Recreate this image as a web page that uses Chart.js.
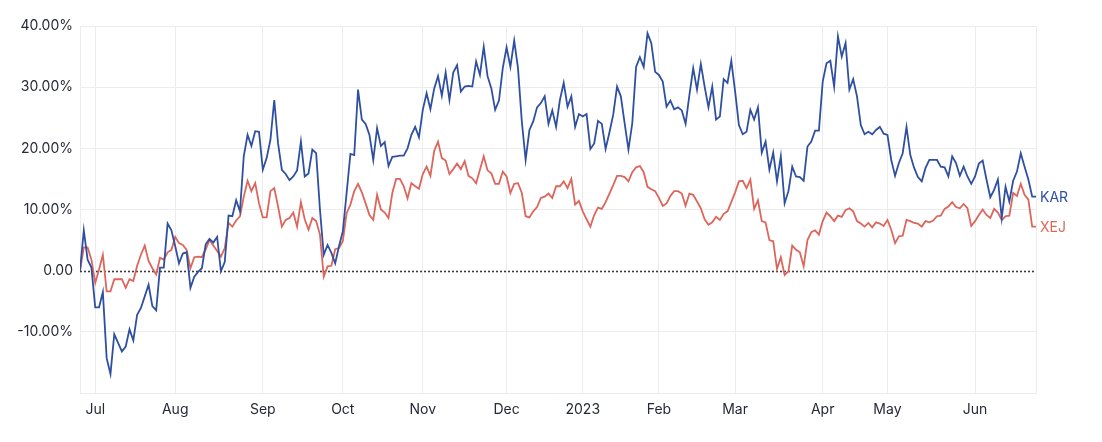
<!DOCTYPE html>
<html>
<head>
<meta charset="utf-8">
<script src="https://cdn.jsdelivr.net/npm/chart.js@4"></script>
<style>
  html, body { margin: 0; padding: 0; background: #fff; }
  #wrap { width: 1102px; height: 442px; position: relative; }
</style>
</head>
<body>
<div id="wrap"><canvas id="chart"></canvas></div>
<script>
// trading-day series, % change since 27 Jun 2022
const kar = [
  0, 6.6, 1.8, 0.5, -6.0, -6.0, -3.5, -14.3, -16.9, -10.4,
  -11.8, -13.2, -12.4, -9.6, -11.4, -7.2, -6.1, -4.2, -2.3, -5.8,
  -6.5, 0.5, 0.5, 7.7, 6.6, 4.0, 1.2, 2.8, 3.0, -2.8,
  -1.0, -0.2, 0.4, 4.3, 5.2, 4.6, 5.5, -0.1, 1.4, 9.0,
  8.9, 11.5, 9.7, 18.7, 22.2, 20.4, 22.8, 22.7, 16.5, 18.4,
  21.4, 27.9, 20.8, 16.5, 15.8, 14.8, 15.4, 16.4, 21.1, 15.4,
  15.9, 19.8, 19.2, 10.0, 2.6, 4.2, 2.9, 1.2, 4.0, 6.4,
  12.7, 19.1, 18.9, 29.6, 24.7, 24.0, 22.2, 18.1, 23.3, 20.4,
  21.0, 17.1, 18.6, 18.7, 18.8, 18.8, 20.0, 22.2, 23.5, 21.8,
  26.3, 29.0, 26.4, 29.8, 31.8, 28.6, 32.4, 27.9, 32.4, 33.6,
  29.3, 30.1, 30.2, 30.1, 34.2, 32.0, 36.6, 31.8, 29.8, 26.3,
  27.8, 33.1, 36.5, 33.3, 37.6, 33.1, 24.4, 18.1, 23.0, 24.4,
  26.7, 27.4, 28.5, 24.0, 26.2, 23.5, 27.9, 30.7, 26.8, 28.5,
  23.5, 25.6, 25.2, 25.6, 19.9, 20.8, 24.5, 24.0, 19.9, 22.6,
  25.5, 30.1, 28.5, 24.1, 19.8, 24.1, 33.3, 34.9, 33.3, 38.8,
  37.2, 32.5, 32.0, 30.9, 26.8, 27.8, 26.4, 26.7, 26.2, 24.0,
  28.7, 33.1, 29.6, 33.8, 30.1, 26.7, 30.1, 24.7, 25.2, 31.3,
  30.7, 34.3, 29.3, 23.8, 22.3, 22.7, 26.3, 24.7, 26.7, 19.3,
  21.1, 16.5, 19.3, 14.6, 18.7, 11.0, 13.0, 17.0, 15.4, 15.3,
  14.7, 20.3, 21.1, 22.9, 22.9, 30.9, 33.9, 34.3, 30.1, 38.3,
  35.0, 37.2, 29.6, 31.3, 28.5, 23.8, 22.3, 22.7, 22.3, 23.0,
  23.5, 22.4, 22.2, 18.1, 15.5, 17.6, 19.2, 23.5, 18.9, 16.8,
  15.3, 14.6, 16.8, 18.1, 18.1, 18.1, 17.0, 16.9, 15.4, 18.7,
  17.6, 15.5, 17.0, 15.4, 14.2, 15.4, 17.5, 18.0, 14.9, 12.0,
  13.2, 14.9, 8.6, 13.7, 11.3, 14.7, 16.2, 19.2, 17.0, 14.9,
  12.1, 12.1
];
const xej = [
  0, 3.8, 3.8, 1.8, -2.0, 0.2, 2.6, -3.4, -3.4, -1.4,
  -1.4, -1.4, -2.8, -1.4, -1.7, 0.8, 2.6, 4.1, 1.6, 0.4,
  -0.6, 2.1, 1.8, 3.0, 3.4, 5.5, 4.5, 4.2, 3.4, 0.4,
  2.2, 2.3, 2.2, 3.5, 5.0, 4.1, 3.2, 2.3, 3.7, 7.8,
  7.2, 8.2, 8.9, 12.1, 14.7, 13.0, 14.3, 11.0, 8.7, 8.7,
  13.0, 13.5, 10.5, 7.2, 8.3, 8.6, 9.5, 7.2, 11.2, 8.4,
  6.7, 8.6, 8.1, 5.9, -1.0, 0.7, 0.8, 3.5, 3.7, 4.8,
  9.4, 10.8, 13.0, 14.2, 12.8, 11.0, 9.1, 8.3, 12.4, 10.0,
  9.5, 8.6, 12.7, 15.0, 15.0, 13.8, 11.8, 14.3, 13.8, 13.4,
  15.8, 17.0, 15.5, 19.6, 21.1, 18.4, 18.0, 15.8, 16.6, 17.5,
  16.6, 17.9, 15.5, 15.1, 14.3, 16.5, 18.7, 16.4, 15.9, 14.2,
  14.2, 16.2, 15.4, 12.7, 14.2, 14.3, 12.7, 8.9, 8.7, 9.7,
  10.4, 11.9, 12.1, 12.6, 11.9, 13.8, 13.8, 14.6, 13.5, 15.0,
  10.8, 11.4, 9.7, 8.4, 7.2, 9.1, 10.3, 10.1, 11.2, 12.6,
  14.0, 15.5, 15.5, 15.3, 14.6, 16.1, 16.9, 17.1, 16.1, 13.7,
  13.3, 13.0, 11.9, 10.6, 11.0, 12.2, 13.0, 13.0, 12.6, 10.6,
  12.6, 12.4, 11.3, 10.2, 8.4, 7.5, 7.9, 8.8, 8.3, 9.3,
  9.7, 11.2, 12.8, 14.6, 14.7, 13.5, 14.9, 10.1, 11.5, 8.1,
  7.9, 5.0, 4.8, 0.3, 2.2, -0.7, -0.1, 4.1, 3.4, 3.0,
  0.7, 5.0, 6.3, 6.6, 5.9, 8.1, 9.5, 8.9, 8.1, 9.0,
  8.8, 9.9, 10.2, 9.7, 8.1, 7.7, 7.2, 7.8, 7.1, 7.9,
  7.7, 7.3, 8.3, 6.7, 4.5, 5.6, 5.7, 8.3, 8.1, 7.8,
  7.7, 7.2, 8.1, 7.9, 8.2, 8.9, 9.0, 10.1, 10.5, 11.2,
  10.4, 10.2, 10.9, 10.2, 7.3, 8.1, 9.1, 10.0, 9.1, 8.6,
  10.1, 9.5, 8.3, 8.9, 9.0, 12.7, 12.2, 14.2, 12.4, 11.6,
  7.2, 7.2
];
// first trading day of each month (index into the series) and its label
const monthIdx = [4, 25, 48, 69, 90, 112, 132, 152, 172, 195, 212, 235];
const monthLabels = ['Jul', 'Aug', 'Sep', 'Oct', 'Nov', 'Dec', '2023', 'Feb', 'Mar', 'Apr', 'May', 'Jun'];
const seriesNames = ['KAR', 'XEJ'];
const colors = ['#2f50a0', '#dc665b'];

const labels = kar.map((_, i) => i);
const textColor = '#262936';
const font = { family: 'Inter, "Noto Sans", sans-serif', size: 14 };

const zeroLine = {
  id: 'zeroLine',
  beforeDatasetsDraw(chart) {
    const { ctx, chartArea, scales } = chart;
    const y = Math.round(scales.y.getPixelForValue(0)) + 0.5;
    ctx.save();
    ctx.strokeStyle = '#3a3a3a';
    ctx.lineWidth = 1.6;
    ctx.setLineDash([2, 2]);
    ctx.beginPath();
    ctx.moveTo(chartArea.left, y);
    ctx.lineTo(chartArea.right, y);
    ctx.stroke();
    ctx.restore();
  }
};

const endLabels = {
  id: 'endLabels',
  afterDatasetsDraw(chart) {
    const ctx = chart.ctx;
    ctx.save();
    ctx.font = '14px ' + font.family;
    ctx.textBaseline = 'middle';
    chart.data.datasets.forEach((ds, i) => {
      const pts = chart.getDatasetMeta(i).data;
      const p = pts[pts.length - 1];
      ctx.fillStyle = ds.borderColor;
      ctx.fillText(ds.label, p.x + 4, p.y + 1);
    });
    ctx.restore();
  }
};

new Chart(document.getElementById('chart'), {
  type: 'line',
  data: {
    labels: labels,
    datasets: [
      { label: seriesNames[0], data: kar, borderColor: colors[0] },
      { label: seriesNames[1], data: xej, borderColor: colors[1] }
    ]
  },
  options: {
    responsive: true,
    maintainAspectRatio: false,
    animation: false,
    layout: { padding: { top: 26, right: 66, bottom: 0, left: 0 } },
    elements: {
      line: { borderWidth: 1.8, tension: 0 },
      point: { radius: 0 }
    },
    plugins: {
      legend: { display: false },
      tooltip: { enabled: false }
    },
    scales: {
      x: {
        type: 'linear',
        min: 0,
        max: labels.length - 1,
        afterBuildTicks: (axis) => {
          axis.ticks = monthIdx.map(v => ({ value: v })).concat([{ value: labels.length - 1 }]);
        },
        afterFit: (axis) => { axis.height = 49; },
        grid: { color: '#ececee', drawTicks: false },
        border: { color: '#ececee' },
        ticks: {
          autoSkip: false,
          maxRotation: 0,
          padding: 8,
          color: textColor,
          font: font,
          callback: (v) => {
            const k = monthIdx.indexOf(v);
            return k >= 0 ? monthLabels[k] : '';
          }
        }
      },
      y: {
        min: -20,
        max: 40,
        afterFit: (axis) => { axis.width = 80; },
        grid: {
          drawTicks: false,
          color: (c) => (c.tick && c.tick.value === 0 ? 'rgba(0,0,0,0)' : '#ececee')
        },
        border: { color: '#ececee' },
        ticks: {
          stepSize: 10,
          padding: 7,
          color: textColor,
          font: font,
          callback: (v) => {
            if (v === 0) return '0.00';
            if (v === -20) return '';
            return v.toFixed(2) + '%';
          }
        }
      }
    }
  },
  plugins: [zeroLine, endLabels]
});
</script>
</body>
</html>
